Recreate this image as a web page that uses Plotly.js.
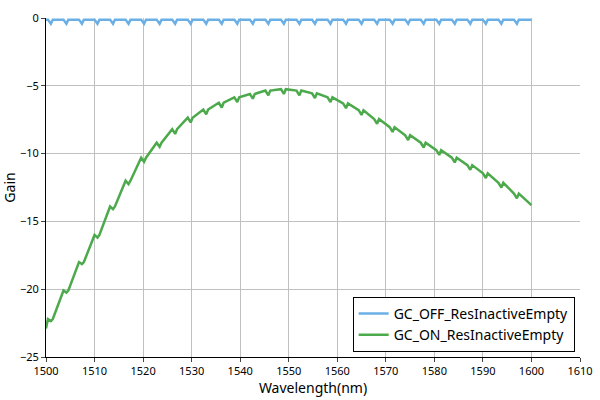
<!DOCTYPE html>
<html><head><script src="https://cdn.plot.ly/plotly-3.0.1.min.js"></script>
<style>body{margin:0}</style></head><body>
<div id="plot" style="width:600px;height:400px"></div>
<script>
var dipCenters = [1501,1504.2,1507.4,1510.6,1513.8,1517,1520.2,1523.4,1526.6,1529.8,1533,1536.2,1539.4,1542.6,1545.8,1549,1552.2,1555.4,1558.6,1561.8,1565,1568.2,1571.4,1574.6,1577.8,1581,1584.2,1587.4,1590.6,1593.8,1597];
var greenBase = [-22.2,-20.1,-18.0,-16.0,-13.9,-12.0,-10.3,-9.2,-8.2,-7.35,-6.75,-6.25,-5.85,-5.6,-5.35,-5.25,-5.35,-5.55,-5.85,-6.3,-6.8,-7.45,-8.05,-8.65,-9.2,-9.75,-10.3,-10.85,-11.45,-12.15,-12.95];
var greenDip = [-22.35,-20.25,-18.15,-16.2,-14.1,-12.25,-10.6,-9.5,-8.55,-7.7,-7.1,-6.6,-6.2,-5.95,-5.7,-5.6,-5.7,-5.9,-6.2,-6.65,-7.15,-7.8,-8.4,-9.0,-9.55,-10.1,-10.65,-11.2,-11.8,-12.5,-13.3];
var blueBase = -0.12, blueDip = -0.42;
var startX = 1500, endX = 1600;
var greenStart = -22.9, greenEnd = -13.8;

var gx = [startX], gy = [greenStart], bx = [startX], by = [blueBase];
for (var i = 0; i < dipCenters.length; i++) {
  var d = dipCenters[i];
  gx.push(d - 0.6, d, d + 0.4); gy.push(greenBase[i], greenDip[i], greenBase[i]);
  bx.push(d - 0.6, d, d + 0.4); by.push(blueBase, blueDip, blueBase);
}
gx.push(endX); gy.push(greenEnd); bx.push(endX); by.push(blueBase);

var data = [
  {x: bx, y: by, mode: 'lines', name: 'GC_OFF_ResInactiveEmpty', line: {color: '#6aafe6', width: 2.5}},
  {x: gx, y: gy, mode: 'lines', name: 'GC_ON_ResInactiveEmpty', line: {color: '#4caa4c', width: 2.5}}
];
var layout = {
  width: 600, height: 400,
  margin: {l: 46, r: 20, t: 18, b: 43},
  font: {family: 'Noto Sans, sans-serif', size: 11, color: '#000'},
  plot_bgcolor: '#fff', paper_bgcolor: '#fff',
  showlegend: true,
  legend: {x: 0.99, y: 0.015, xanchor: 'right', yanchor: 'bottom', bordercolor: '#000', borderwidth: 1, font: {size: 14}, bgcolor: '#fff', tracegroupgap: 0},
  xaxis: {range: [1500, 1610], dtick: 10, showgrid: true, gridcolor: '#c0c0c0', showline: true, linecolor: '#000', zeroline: false,
    ticks: 'outside', ticklen: 4, title: {text: 'Wavelength(nm)', font: {size: 14}, standoff: 4}},
  yaxis: {range: [-25, 0], dtick: 5, showgrid: true, gridcolor: '#c0c0c0', showline: true, linecolor: '#000', zeroline: false,
    ticks: 'outside', ticklen: 4, title: {text: 'Gain', font: {size: 14}, standoff: 6}}
};
Plotly.newPlot('plot', data, layout, {displayModeBar: false});
</script></body></html>
